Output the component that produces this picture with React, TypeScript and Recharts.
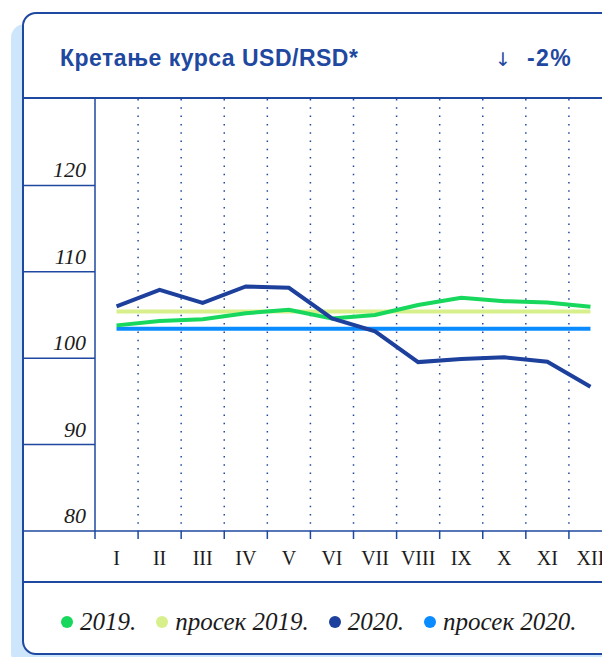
import { CartesianGrid, ComposedChart, Legend, Line, XAxis, YAxis } from "recharts";

const months = ["I", "II", "III", "IV", "V", "VI", "VII", "VIII", "IX", "X", "XI", "XII"];
const usd2019 = [103.8, 104.3, 104.5, 105.2, 105.6, 104.6, 105.0, 106.15, 107.0, 106.6, 106.45, 105.95];
const avg2019 = [105.4, 105.4, 105.4, 105.4, 105.4, 105.4, 105.4, 105.4, 105.4, 105.4, 105.4, 105.4];
const usd2020 = [106.0, 107.9, 106.4, 108.3, 108.15, 104.6, 103.1, 99.55, 99.9, 100.1, 99.6, 96.7];
const avg2020 = [103.4, 103.4, 103.4, 103.4, 103.4, 103.4, 103.4, 103.4, 103.4, 103.4, 103.4, 103.4];
const yTicks = [80, 90, 100, 110, 120];

// legend order as in the original
const series = [
  { key: "y2019", name: "2019.", color: "#17d85c" },
  { key: "a2019", name: "просек 2019.", color: "#d8f08c" },
  { key: "y2020", name: "2020.", color: "#1c409c" },
  { key: "a2020", name: "просек 2020.", color: "#0a8bff" },
];

const data = months.map((m, i) => ({
  m, y2019: usd2019[i], a2019: avg2019[i], y2020: usd2020[i], a2020: avg2020[i],
}));

const BORDER = "#1f48a0";
const Y_W = 71;
const PLOT_W = 517;
const SERIF = "'Liberation Serif', 'DejaVu Serif', serif";
const SANS = "'Liberation Sans', Arial, sans-serif";

function YTick({ y, payload }: any) {
  return (
    <g>
      <line x1={0} x2={Y_W} y1={y} y2={y} stroke={BORDER} strokeWidth={1.5} />
      <text x={Y_W - 9} y={y - 8} textAnchor="end" fontFamily={SERIF} fontStyle="italic"
        fontSize={22} fill="#1b1b1b">{payload.value}</text>
    </g>
  );
}

function XTick({ x, y, payload }: any) {
  const step = PLOT_W / months.length;
  return (
    <g>
      <line x1={x - step / 2} x2={x - step / 2} y1={y - 8} y2={y} stroke={BORDER} strokeWidth={1.5} />
      <text x={x} y={y + 26} textAnchor="middle" fontFamily={SERIF} fontSize={20} fill="#1b1b1b">
        {payload.value}
      </text>
    </g>
  );
}

function LegendRow() {
  return (
    <div style={{ display: "flex", alignItems: "center", fontFamily: SERIF, fontStyle: "italic", fontSize: 25, color: "#1b1b1b" }}>
      {series.map((s) => (
        <span key={s.key} style={{ display: "flex", alignItems: "center", marginRight: 20 }}>
          <span style={{ width: 12, height: 12, borderRadius: 6, background: s.color, marginRight: 7 }} />
          {s.name}
        </span>
      ))}
    </div>
  );
}

export default function App() {
  return (
    <div style={{ position: "fixed", left: 0, top: 0, width: 602, height: 657, overflow: "hidden", background: "#fff" }}>
      <div style={{
        position: "absolute", left: 22, top: 12, width: 640, height: 643, boxSizing: "border-box",
        border: `2px solid ${BORDER}`, borderRadius: 14, background: "#fff",
        boxShadow: "-11px 12px 0 0 #cde6fb",
      }} />
      <div style={{ position: "absolute", left: 22, top: 97, width: 600, height: 2, background: BORDER }} />
      <div style={{
        position: "absolute", left: 60, top: 45, fontFamily: SANS, letterSpacing: 0.5,
        fontWeight: 700, fontSize: 23, color: BORDER, lineHeight: "27px", whiteSpace: "nowrap",
      }}>Кретање курса USD/RSD*</div>
      <div style={{
        position: "absolute", left: 495, top: 45, fontFamily: SANS,
        fontSize: 23, color: BORDER, lineHeight: "27px", whiteSpace: "nowrap",
      }}>
        <span style={{ fontWeight: 400, fontFamily: "'DejaVu Sans', sans-serif", fontSize: 19 }}>↓</span>
        <span style={{ fontWeight: 700, marginLeft: 16, letterSpacing: 1.5 }}>-2%</span>
      </div>
      <div style={{ position: "absolute", left: 24, top: 99 }}>
        <ComposedChart width={Y_W + PLOT_W} height={556} data={data}
          margin={{ top: 0, right: 0, left: 0, bottom: 74 }}>
          <CartesianGrid horizontal={false} stroke={BORDER} strokeWidth={1.5} strokeDasharray="1.5 6.8"
            verticalCoordinatesGenerator={({ offset }: any) =>
              months.map((_, i) => offset.left + ((i + 1) * offset.width) / months.length)} />
          <XAxis dataKey="m" scale="band" height={50} axisLine={{ stroke: BORDER, strokeWidth: 1.5 }} tickLine={false}
            tickSize={8} tickMargin={0} interval={0} tick={<XTick />} />
          <YAxis domain={[80, 130]} ticks={yTicks} width={Y_W} axisLine={{ stroke: BORDER, strokeWidth: 1.5 }}
            tickLine={false} tick={<YTick />} />
          <Legend verticalAlign="middle" align="center" wrapperStyle={{ top: 509, left: 37, width: 580 }}
            content={() => <LegendRow />} />
          <Line type="linear" dataKey="a2019" name="просек 2019." stroke="#d8f08c" strokeWidth={4} dot={false} isAnimationActive={false} />
          <Line type="linear" dataKey="a2020" name="просек 2020." stroke="#0a8bff" strokeWidth={4} dot={false} isAnimationActive={false} />
          <Line type="linear" dataKey="y2019" name="2019." stroke="#17d85c" strokeWidth={4} dot={false} isAnimationActive={false} />
          <Line type="linear" dataKey="y2020" name="2020." stroke="#1c409c" strokeWidth={4} dot={false} isAnimationActive={false} />
        </ComposedChart>
      </div>
      <div style={{ position: "absolute", left: 22, top: 581, width: 600, height: 2, background: BORDER }} />
    </div>
  );
}
